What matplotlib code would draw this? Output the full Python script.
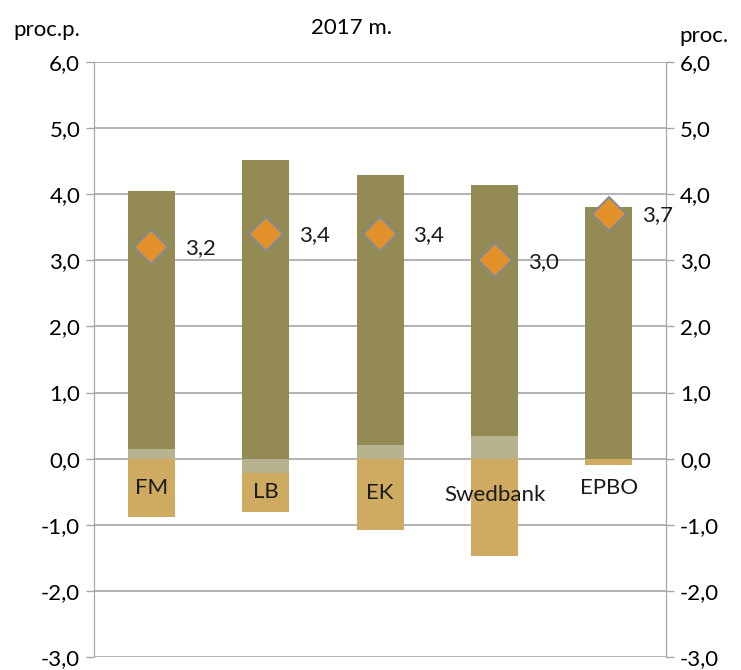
import numpy as np
import matplotlib.pyplot as plt

plt.rcParams["font.family"] = ["Lato", "DejaVu Sans"]

# duomenys
banks = ["FM", "LB", "EK", "Swedbank", "EPBO"]
light_part = [0.14, -0.21, 0.20, 0.35, 0.0]
dark_part = [3.91, 4.52, 4.09, 3.79, 3.80]
tan_part = [-0.88, -0.59, -1.08, -1.47, -0.10]
forecast = [3.2, 3.4, 3.4, 3.0, 3.7]
label_y = [-0.45, -0.5, -0.52, -0.55, -0.44]

c_light = "#B8B38F"
c_dark = "#948A54"
c_tan = "#CFAB62"
c_diamond = "#E2912A"
grid_c = "#A6A6A6"

fig = plt.figure(figsize=(7.41, 6.70), dpi=100)
ax = fig.add_axes([0.127, 0.0194, 0.772, 0.888])

x = np.arange(len(banks))
width = 0.41

light = np.array(light_part)
dark = np.array(dark_part)
tan = np.array(tan_part)

# Excel-style stacking: positives up, negatives down
pos_base = np.zeros(len(x))
neg_base = np.zeros(len(x))
for vals, col in [(light, c_light), (dark, c_dark), (tan, c_tan)]:
    bottoms = np.where(vals >= 0, pos_base, neg_base)
    ax.bar(x, vals, width=width, bottom=bottoms, color=col, zorder=2)
    pos_base = pos_base + np.where(vals >= 0, vals, 0)
    neg_base = neg_base + np.where(vals < 0, vals, 0)

ax2 = ax.twinx()
ax2.set_ylim(-3, 6)
ax2.plot(x, forecast, linestyle="none", marker="D", markersize=17,
         markerfacecolor=c_diamond, markeredgecolor="#7F8A96",
         markeredgewidth=1.4, zorder=5)
for xi, v in zip(x, forecast):
    ax2.annotate(f"{v:.1f}".replace(".", ","), (xi, v),
                 xytext=(24, -1), textcoords="offset points",
                 ha="left", va="center", fontsize=16, color="#1a1a1a")

for xi, name, ly in zip(x, banks, label_y):
    ax.text(xi, ly, name, ha="center", va="center", fontsize=16,
            color="#1a1a1a", zorder=4)

ticks = np.arange(-3, 7, 1)
for a in (ax, ax2):
    a.set_ylim(-3, 6)
    a.set_yticks(ticks)
    a.set_yticklabels([f"{t:.1f}".replace(".", ",") for t in ticks],
                      fontsize=16)
    a.tick_params(axis="y", length=6, width=1, color=grid_c, pad=4)
    for s in ["top", "bottom"]:
        a.spines[s].set_visible(False)
    a.spines["left"].set_color(grid_c)
    a.spines["right"].set_color(grid_c)

ax.set_xlim(-0.5, len(banks) - 0.5)
ax.set_xticks([])
ax.yaxis.grid(True, color=grid_c, linewidth=1.2, zorder=0)
ax.set_axisbelow(True)

fig.text(0.018, 0.955, "proc.p.", fontsize=16, ha="left", va="center")
fig.text(0.475, 0.958, "2017 m.", fontsize=16, ha="center", va="center")
fig.text(0.983, 0.946, "proc.", fontsize=16, ha="right", va="center")

fig.savefig("out.png", dpi=100)
